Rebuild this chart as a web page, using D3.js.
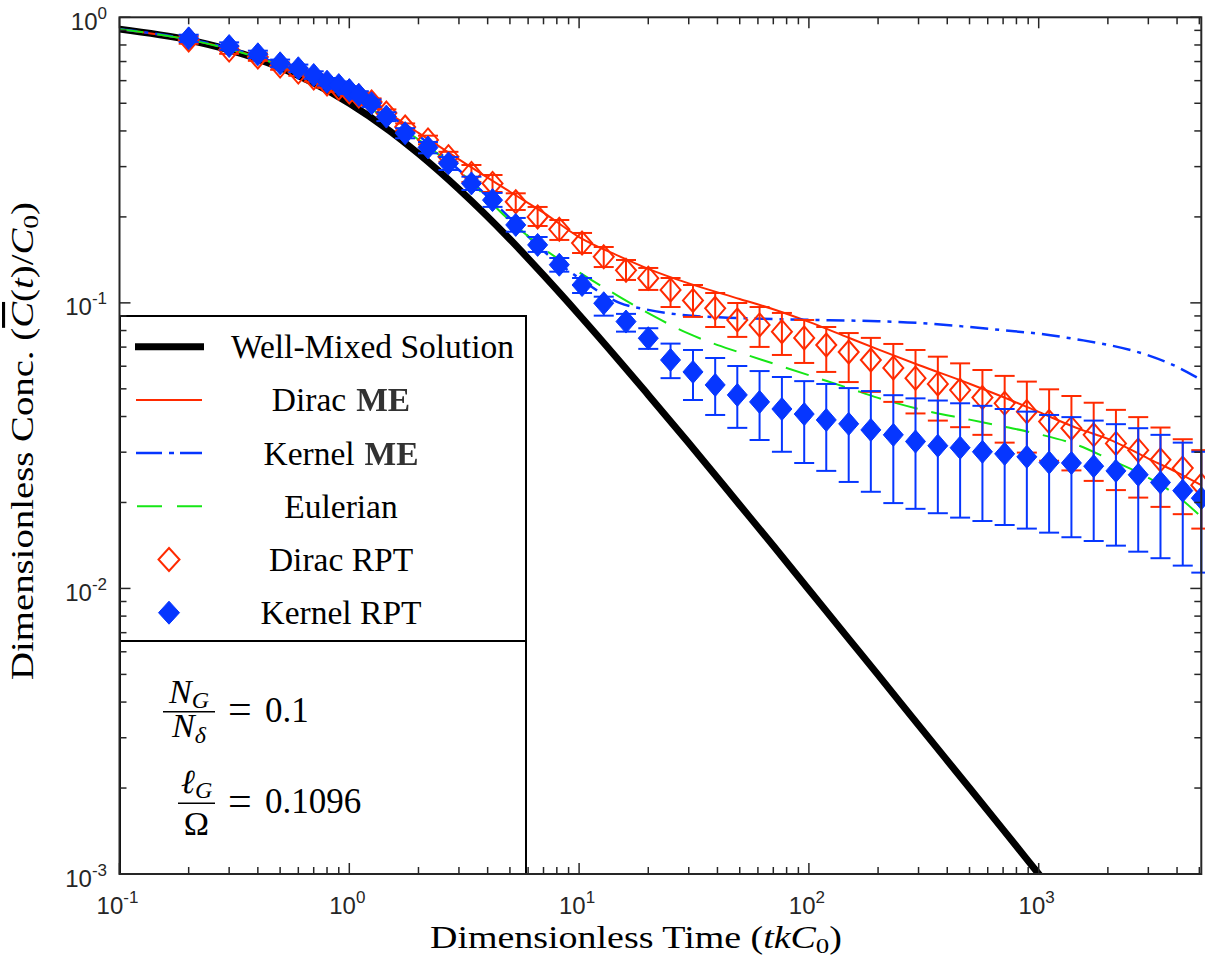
<!DOCTYPE html>
<html><head><meta charset="utf-8">
<script src="https://cdn.jsdelivr.net/npm/d3@7"></script>
<style>body{margin:0;background:#fff}</style>
</head><body><svg id="chart" width="1205" height="959"></svg>
<script>
// ---------------- data ----------------
const tModel    = [0.1,0.2,0.3,0.5,0.7,1,1.5,2,3,5,7,10,15,20,30,50,70,100,150,200,300,500,700,1000,1500,2000,3000,4000,5100];
const wellMixed = [0.909,0.833,0.769,0.667,0.588,0.500,0.400,0.333,0.250,0.167,0.125,0.0909,0.0625,0.0476,0.0323,0.0196,0.0141,0.0099,0.00662,0.00498,0.00332,0.0020,0.00143,0.00100,0.000666,0.000500,0.000333,0.00025,0.000196];
const diracME   = [0.909,0.836,0.776,0.682,0.612,0.540,0.458,0.394,0.318,0.245,0.207,0.170,0.1455,0.1316,0.117,0.1032,0.095,0.0858,0.0753,0.0687,0.0606,0.0521,0.0468,0.0415,0.0362,0.0334,0.0285,0.0255,0.0230];
const kernelME  = [0.909,0.838,0.780,0.686,0.618,0.545,0.452,0.385,0.292,0.198,0.152,0.122,0.100,0.0945,0.0903,0.0885,0.0878,0.0872,0.0867,0.0862,0.0851,0.0823,0.0802,0.0780,0.0743,0.0713,0.0655,0.0597,0.0537];
const eulerian  = [0.909,0.835,0.774,0.678,0.606,0.525,0.436,0.373,0.290,0.194,0.155,0.128,0.105,0.092,0.078,0.067,0.0613,0.0558,0.0502,0.0465,0.0425,0.0390,0.0369,0.0347,0.0316,0.0285,0.0244,0.0211,0.0178];

const tRPT = [0.2,0.3,0.4,0.5,0.6,0.7,0.8,0.9,1.0,1.1,1.25,1.45,1.75,2.2,2.7,3.4,4.2,5.3,6.6,8.2,10.3,12.8,16,20,25,31.3,39.1,48.8,61,76.3,95.4,119,149,186,233,291,364,455,569,711,888,1110,1388,1735,2168,2711,3388,4235,5100];
const diracRPT = [0.833,0.768,0.726,0.675,0.643,0.613,0.584,0.565,0.548,0.530,0.505,0.462,0.413,0.372,0.325,0.284,0.262,0.226,0.200,0.181,0.162,0.145,0.130,0.122,0.111,0.102,0.0957,0.0871,0.0837,0.0793,0.0754,0.0712,0.0673,0.0631,0.0592,0.0545,0.0520,0.0495,0.0466,0.0445,0.0416,0.0384,0.0364,0.0345,0.0322,0.0305,0.0282,0.0264,0.0230];
const diracHi  = [0.858,0.791,0.748,0.695,0.662,0.631,0.602,0.582,0.564,0.546,0.520,0.476,0.425,0.385,0.338,0.3040,0.2804,0.2419,0.2167,0.1951,0.1757,0.1569,0.1413,0.1325,0.1222,0.1155,0.1083,0.0999,0.0967,0.0922,0.0871,0.0823,0.0784,0.0754,0.0718,0.0684,0.0648,0.0614,0.0582,0.0555,0.0530,0.0498,0.0472,0.0447,0.0422,0.0398,0.0366,0.0333,0.0305];
const diracLo  = [0.808,0.745,0.704,0.655,0.624,0.595,0.566,0.548,0.532,0.514,0.490,0.448,0.401,0.359,0.312,0.2651,0.2445,0.2115,0.1859,0.1661,0.1495,0.1335,0.1203,0.1110,0.0967,0.0893,0.0823,0.0760,0.0701,0.0657,0.0616,0.0573,0.0528,0.0488,0.0450,0.0410,0.0387,0.0367,0.0345,0.0324,0.0299,0.0280,0.0259,0.0238,0.0221,0.0208,0.0193,0.0182,0.0162];
const kernelRPT = [0.844,0.793,0.742,0.690,0.663,0.628,0.595,0.579,0.556,0.535,0.500,0.449,0.393,0.350,0.308,0.262,0.229,0.1875,0.1596,0.136,0.1155,0.0997,0.086,0.0752,0.0631,0.0573,0.0516,0.0476,0.0450,0.0425,0.0408,0.0389,0.0377,0.0359,0.0345,0.0327,0.0316,0.0311,0.0301,0.0296,0.0289,0.0276,0.0275,0.0268,0.0258,0.0250,0.0235,0.0220,0.0207];
const kernelHi  = [0.869,0.817,0.764,0.711,0.683,0.647,0.613,0.596,0.573,0.551,0.515,0.465,0.409,0.366,0.324,0.2766,0.2426,0.1983,0.1701,0.1436,0.1222,0.1051,0.0915,0.0815,0.0720,0.0684,0.0641,0.0601,0.0577,0.0550,0.0532,0.0520,0.0503,0.0491,0.0475,0.0463,0.0455,0.0445,0.0436,0.0425,0.0416,0.0405,0.0398,0.0387,0.0376,0.0364,0.0345,0.0324,0.0301];
const kernelLo  = [0.819,0.769,0.720,0.669,0.643,0.609,0.577,0.562,0.539,0.519,0.485,0.433,0.377,0.334,0.292,0.2485,0.2168,0.1775,0.1508,0.1286,0.1083,0.0902,0.0793,0.0690,0.0545,0.0457,0.0405,0.0365,0.0331,0.0301,0.0275,0.0258,0.0236,0.0218,0.0199,0.0190,0.01834,0.0177,0.01722,0.01668,0.0162,0.01568,0.01511,0.01466,0.01412,0.01345,0.01276,0.01202,0.01136];

const xMajor = [0.1,1,10,100,1000];
const xMajorExp = ["-1","0","1","2","3"];
const yMajor = [0.001,0.01,0.1,1];
const yMajorExp = ["-3","-2","-1","0"];
const legendLabels = ["Well-Mixed Solution","Dirac","Kernel","Eulerian","Dirac RPT","Kernel RPT"];

// ---------------- styles ----------------
const RED="#ff2a00", BLUE="#0636ff", GREEN="#16e616", AXC="#262626";
const SERIF="'Liberation Serif','Times New Roman',serif", SANS="'Liberation Sans',Arial,Helvetica,sans-serif";

const W=1205,H=959;
const m={l:119.5,r:1201.3,t:17.3,b:874};
const x=d3.scaleLog().domain([0.1,5100]).range([m.l,m.r]);
const y=d3.scaleLog().domain([0.001,1]).range([m.b,m.t]);

const svg=d3.select("#chart");
svg.append("rect").attr("width",W).attr("height",H).attr("fill","#fff");
const defs=svg.append("defs");
defs.append("clipPath").attr("id","clip").append("rect")
  .attr("x",m.l).attr("y",m.t).attr("width",m.r-m.l).attr("height",m.b-m.t);
defs.append("filter").attr("id","soft").append("feGaussianBlur").attr("stdDeviation",0.6);

const line=d3.line().x(d=>x(d[0])).y(d=>y(d[1])).curve(d3.curveMonotoneX);
const ser=v=>tModel.map((t,i)=>[t,v[i]]);

const plot=svg.append("g").attr("clip-path","url(#clip)");
plot.append("path").attr("d",line(ser(wellMixed))).attr("fill","none").attr("stroke","#000").attr("stroke-width",7);
plot.append("path").attr("d",line(ser(diracME))).attr("fill","none").attr("stroke",RED).attr("stroke-width",2);
plot.append("path").attr("d",line(ser(kernelME))).attr("fill","none").attr("stroke",BLUE).attr("stroke-width",2.5).attr("stroke-dasharray","18,7,4,7");
plot.append("path").attr("d",line(ser(eulerian))).attr("fill","none").attr("stroke",GREEN).attr("stroke-width",2).attr("stroke-dasharray","24,14");

const diamond=(hw,hh)=>`M0,${-hh}L${hw},0L0,${hh}L${-hw},0Z`;
const CAP=10;
function errSeries(vals,lo,hi,color,filled){
  const g=svg.append("g");
  const data=tRPT.map((t,i)=>({t,v:vals[i],lo:lo[i],hi:hi[i]}));
  const eb=g.selectAll("g.eb").data(data).enter().append("g").attr("stroke",color).attr("stroke-width",2);
  eb.append("line").attr("x1",d=>x(d.t)).attr("x2",d=>x(d.t)).attr("y1",d=>y(d.lo)).attr("y2",d=>y(d.hi));
  eb.append("line").attr("x1",d=>x(d.t)-CAP).attr("x2",d=>x(d.t)+CAP).attr("y1",d=>y(d.lo)).attr("y2",d=>y(d.lo));
  eb.append("line").attr("x1",d=>x(d.t)-CAP).attr("x2",d=>x(d.t)+CAP).attr("y1",d=>y(d.hi)).attr("y2",d=>y(d.hi));
  g.selectAll("path.mk").data(data).enter().append("path")
    .attr("d",diamond(10,11.5)).attr("transform",d=>`translate(${x(d.t)},${y(d.v)})`)
    .attr("fill",filled?color:"none").attr("stroke",color).attr("stroke-width",filled?1:2);
}
errSeries(diracRPT,diracLo,diracHi,RED,false);
errSeries(kernelRPT,kernelLo,kernelHi,BLUE,true);

// ---------------- legend box ----------------
svg.append("rect").attr("x",120).attr("y",316).attr("width",406).attr("height",325).attr("fill","#fff").attr("stroke","#000").attr("stroke-width",2);
svg.append("rect").attr("x",120).attr("y",641).attr("width",406).attr("height",233).attr("fill","#fff").attr("stroke","#000").attr("stroke-width",2);
const rowY=i=>346.7+i*53.2;
const lg=svg.append("g");
lg.append("line").attr("x1",135).attr("x2",204).attr("y1",rowY(0)).attr("y2",rowY(0)).attr("stroke","#000").attr("stroke-width",7);
lg.append("line").attr("x1",136).attr("x2",202).attr("y1",rowY(1)).attr("y2",rowY(1)).attr("stroke",RED).attr("stroke-width",2);
lg.append("line").attr("x1",136).attr("x2",202).attr("y1",rowY(2)).attr("y2",rowY(2)).attr("stroke",BLUE).attr("stroke-width",2.5).attr("stroke-dasharray","26,7,5,6");
lg.append("line").attr("x1",137).attr("x2",202).attr("y1",rowY(3)).attr("y2",rowY(3)).attr("stroke",GREEN).attr("stroke-width",2).attr("stroke-dasharray","25,15");
lg.append("path").attr("d",diamond(10.5,11.5)).attr("transform",`translate(169,${rowY(4)})`).attr("fill","none").attr("stroke",RED).attr("stroke-width",2);
lg.append("path").attr("d",diamond(10.5,11.5)).attr("transform",`translate(169,${rowY(5)})`).attr("fill",BLUE).attr("stroke",BLUE);
legendLabels.forEach((lab,i)=>{
  const t=lg.append("text").attr("font-family",SERIF).attr("font-size",33.5).attr("fill","#000")
    .attr("y",rowY(i)+11.5);
  if(i===0){t.attr("x",231).attr("text-anchor","start").text(lab);}
  else{
    t.attr("x",341).attr("text-anchor","middle");
    t.append("tspan").text(lab);
    if(i===1||i===2) t.append("tspan").attr("dx",10).attr("font-weight","bold").attr("fill","#333").attr("filter","url(#soft)").text("ME");
  }
});

// ---------------- annotation ----------------
const an=svg.append("g").attr("font-family",SERIF).attr("font-size",34).attr("fill","#000");
function frac(cx,barY,barX1,barX2,numMain,numSub,denMain,denSub,numBase,denBase){
  const n=an.append("text").attr("x",cx).attr("y",numBase).attr("text-anchor","middle");
  n.append("tspan").attr("font-style","italic").text(numMain);
  n.append("tspan").attr("font-style","italic").attr("font-size",24).attr("dy",5).text(numSub);
  an.append("line").attr("x1",barX1).attr("x2",barX2).attr("y1",barY).attr("y2",barY).attr("stroke","#000").attr("stroke-width",1.6);
  const d=an.append("text").attr("x",cx).attr("y",denBase).attr("text-anchor","middle");
  d.append("tspan").attr("font-style",denSub?"italic":"normal").text(denMain);
  if(denSub) d.append("tspan").attr("font-style","italic").attr("font-size",24).attr("dy",6).text(denSub);
}
frac(189,711.7,163,215,"N","G","N","δ",703,737);
an.append("text").attr("x",228).attr("y",723).attr("font-size",42).text("=");
an.append("text").attr("x",265).attr("y",721.5).attr("font-size",35).text("0.1");
frac(196.5,803.3,178,215,"ℓ","G","Ω",null,793,835);
an.append("text").attr("x",228).attr("y",814.6).attr("font-size",42).text("=");
an.append("text").attr("x",265).attr("y",813.3).attr("font-size",35).text("0.1096");

// ---------------- axes ----------------
const ax=svg.append("g").attr("stroke",AXC).attr("stroke-width",1.5);
const xMinor=[],yMinor=[];
[0.1,1,10,100,1000].forEach(d=>{for(let k=2;k<=9;k++){if(k*d<=5100)xMinor.push(k*d);}});
[0.001,0.01,0.1].forEach(d=>{for(let k=2;k<=9;k++)yMinor.push(k*d);});
function xt(vals,len){
  ax.selectAll(null).data(vals).enter().append("line").attr("x1",d=>x(d)).attr("x2",d=>x(d)).attr("y1",m.b).attr("y2",m.b-len);
  ax.selectAll(null).data(vals).enter().append("line").attr("x1",d=>x(d)).attr("x2",d=>x(d)).attr("y1",m.t).attr("y2",m.t+len);
}
function yt(vals,len){
  ax.selectAll(null).data(vals).enter().append("line").attr("y1",d=>y(d)).attr("y2",d=>y(d)).attr("x1",m.l).attr("x2",m.l+len);
  ax.selectAll(null).data(vals).enter().append("line").attr("y1",d=>y(d)).attr("y2",d=>y(d)).attr("x1",m.r).attr("x2",m.r-len);
}
xt(xMajor,11); xt(xMinor,7); yt(yMajor,11); yt(yMinor,7);
svg.append("rect").attr("x",m.l).attr("y",m.t).attr("width",m.r-m.l).attr("height",m.b-m.t)
  .attr("fill","none").attr("stroke",AXC).attr("stroke-width",2);

const tl=svg.append("g").attr("font-family",SANS).attr("fill",AXC);
xMajor.forEach((v,i)=>{
  const t=tl.append("text").attr("x",x(v)-2).attr("y",914).attr("text-anchor","middle");
  t.append("tspan").attr("font-size",24).text("10");
  t.append("tspan").attr("font-size",17).attr("dy",-11).text(xMajorExp[i]);
});
yMajor.forEach((v,i)=>{
  const t=tl.append("text").attr("x",107).attr("y",y(v)+12.5).attr("text-anchor","end");
  t.append("tspan").attr("font-size",24).text("10");
  t.append("tspan").attr("font-size",17).attr("dy",-11).text(yMajorExp[i]);
});

// axis titles
const xl=svg.append("text").attr("font-family",SERIF).attr("font-size",31).attr("fill","#000")
  .attr("x",430).attr("y",948).attr("textLength",412).attr("lengthAdjust","spacingAndGlyphs");
xl.append("tspan").text("Dimensionless Time (");
xl.append("tspan").attr("font-style","italic").text("tkC");
xl.append("tspan").attr("font-size",22).attr("dy",5).text("0");
xl.append("tspan").attr("dy",-5).text(")");

const yl=svg.append("text").attr("font-family",SERIF).attr("font-size",31).attr("fill","#000")
  .attr("transform","translate(33,680) rotate(-90)").attr("textLength",478).attr("lengthAdjust","spacingAndGlyphs");
yl.append("tspan").text("Dimensionless Conc. (");
yl.append("tspan").attr("font-style","italic").attr("text-decoration","overline").text("C");
yl.append("tspan").text("(");
yl.append("tspan").attr("font-style","italic").text("t");
yl.append("tspan").text(")/");
yl.append("tspan").attr("font-style","italic").text("C");
yl.append("tspan").attr("font-size",22).attr("dy",5).text("0");
yl.append("tspan").attr("dy",-5).text(")");
</script>
</body></html>
